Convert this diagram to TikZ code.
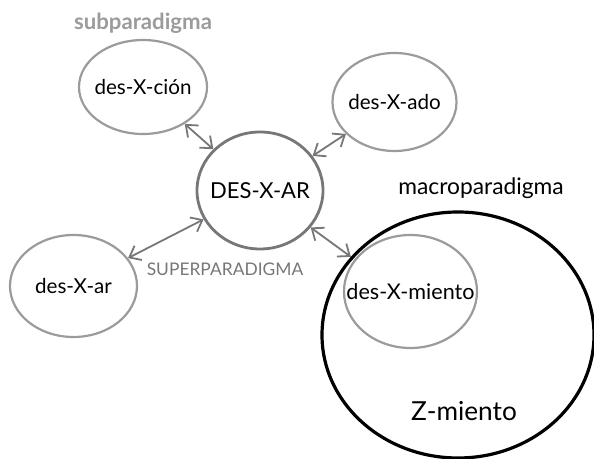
\documentclass[tikz,border=0pt]{standalone}
\usepackage{fontspec}
\setmainfont{Lato}
\usetikzlibrary{arrows.meta, positioning, shapes.geometric}
\definecolor{lightgray}{HTML}{9B9B9D}
\definecolor{midgray}{HTML}{77777A}

\begin{document}
\begin{tikzpicture}[
x=0.5pt, y=-0.5pt,
>={Straight Barb[length=5pt,width=8pt]},
form/.style={ellipse,draw=lightgray,line width=1.1pt,inner xsep=-6pt,inner ysep=0pt,font=\fontsize{10.3}{12}\selectfont},
link/.style={<->,draw=midgray,line width=0.9pt},
]
\useasboundingbox (0,0) rectangle (594,459);
%% paradigm nodes
% nodes
\node[form,minimum width=64pt,minimum height=47pt] (cion) at (143,87) {des-X-ción};
\node[form,minimum width=62pt,minimum height=49pt] (ado) at (394.5,102) {des-X-ado};
\node[form,draw=midgray,line width=1.4pt,minimum width=63pt,minimum height=58.5pt,font=\fontsize{11}{13}\selectfont] (AR) at (260,190.5) {DES-X-AR};
\node[form,minimum width=63.5pt,minimum height=51pt] (ar) at (73.5,286) {des-X-ar};
\node[ellipse,draw=black,line width=1.6pt,minimum width=136pt,minimum height=123pt] (Z) at (458,335) {};
\node[form,inner xsep=-10pt,minimum width=66.5pt,minimum height=56.5pt,font=\fontsize{10.8}{12}\selectfont] (miento) at (410.5,291.5) {des-X-miento};
% labels
\node[font=\fontsize{11.1}{13}\selectfont\bfseries,text=lightgray] (sub) at (143,23) {subparadigma};
\node[font=\fontsize{11.4}{13}\selectfont] (macro) at (481,188) {macroparadigma};
\node[font=\fontsize{8.7}{10}\selectfont,text=midgray] (super) at (225,269) {SUPERPARADIGMA};
\node[font=\fontsize{13.1}{15}\selectfont] (zlab) at (464,411) {Z-miento};
% arrows
\draw[link] (cion) -- (AR);
\draw[link] (ado) -- (AR);
\draw[link] (ar) -- (AR);
\draw[link] (AR) -- (Z);
\end{tikzpicture}
\end{document}
